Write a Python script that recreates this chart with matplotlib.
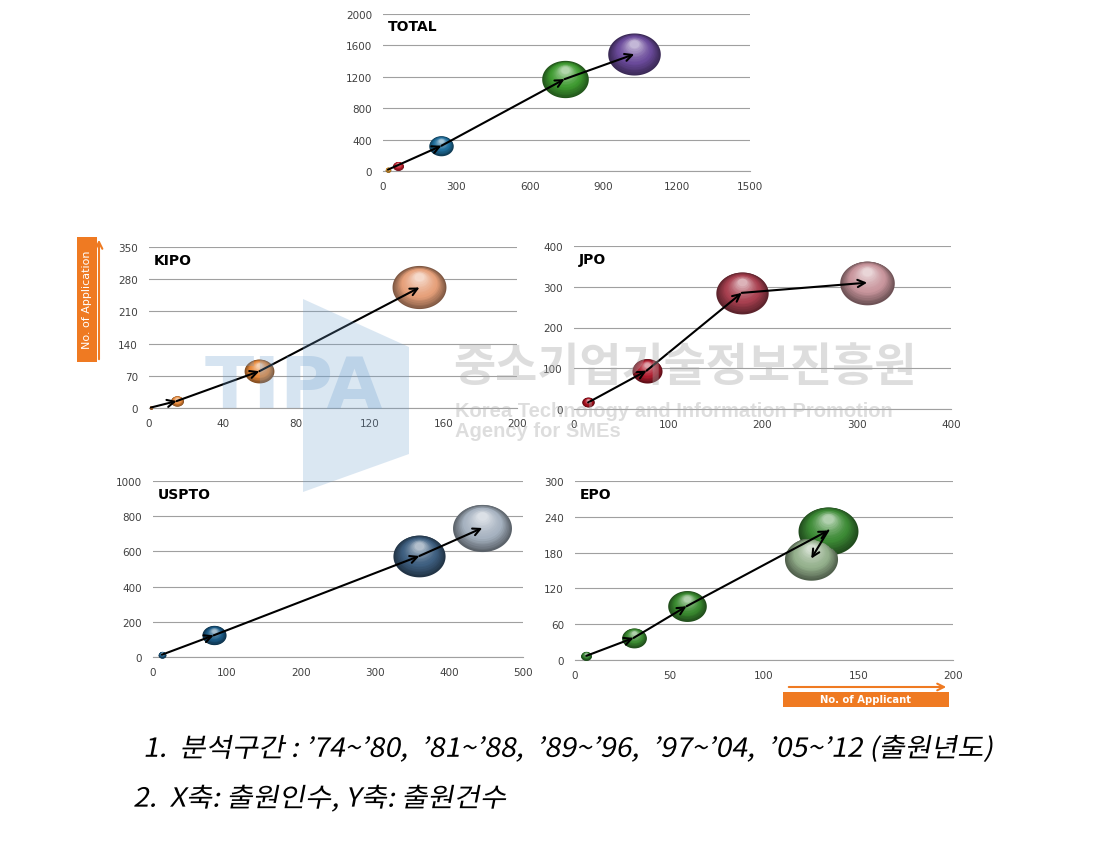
import numpy as np
import matplotlib
matplotlib.use("Agg")
import matplotlib.pyplot as plt
from matplotlib import transforms, patheffects
from matplotlib.path import Path
from matplotlib.patches import Polygon, Rectangle, FancyArrowPatch
from matplotlib.colors import to_rgb

W, H = 1108, 845

# ---- data (x = applicants, y = applications; one point per period) ----
total_x = [20, 61, 239, 742, 1027]
total_y = [17, 64, 322, 1170, 1488]
total_colors = ["#E8A030", "#C21E2C", "#1F6E9C", "#3E9A30", "#6A4A9A"]
total_path = [0, 2, 3, 4]

kipo_x = [1, 15, 60, 147]
kipo_y = [1, 15, 80, 262]
kipo_colors = ["#E8893A", "#E8893A", "#E8893A", "#E6A07A"]
kipo_path = [0, 1, 2, 3]

jpo_x = [15, 77, 178, 311]
jpo_y = [16, 94, 285, 310]
jpo_colors = ["#A8101E", "#B01C2E", "#A84050", "#C8959C"]
jpo_path = [0, 1, 2, 3]

uspto_x = [12, 82, 360, 445]
uspto_y = [13, 123, 574, 733]
uspto_colors = ["#1A5A85", "#1A5A85", "#3E5F80", "#A6B2C0"]
uspto_path = [0, 1, 2, 3]

epo_x = [6, 31, 59, 134, 125]
epo_y = [7, 37, 90, 217, 170]
epo_colors = ["#2E7A2A", "#3A8A30", "#3A8A30", "#3C8A35", "#94B08C"]
epo_path = [0, 1, 2, 3, 4]

notes = ["1.  분석구간 : \u201974~\u201980,  \u201981~\u201988,  \u201989~\u201996,  \u201997~\u201904,  \u201905~\u201912 (출원년도)",
         "2.  X축: 출원인수, Y축: 출원건수"]


def px_rect(l, t, r, b):
    return [l / W, 1 - b / H, (r - l) / W, (b - t) / H]


def fx(x):
    return x / W


def fy(y):
    return 1 - y / H


panels = [
    dict(name="TOTAL", x=total_x, y=total_y, colors=total_colors, path=total_path,
         box=(383, 15, 750, 172), xmax=1500, xstep=300, ymax=2000, ystep=400),
    dict(name="KIPO", x=kipo_x, y=kipo_y, colors=kipo_colors, path=kipo_path,
         box=(149, 248, 517, 409), xmax=200, xstep=40, ymax=350, ystep=70),
    dict(name="JPO", x=jpo_x, y=jpo_y, colors=jpo_colors, path=jpo_path,
         box=(574, 247, 951, 410), xmax=400, xstep=100, ymax=400, ystep=100),
    dict(name="USPTO", x=uspto_x, y=uspto_y, colors=uspto_colors, path=uspto_path,
         box=(153, 482, 523, 658), xmax=500, xstep=100, ymax=1000, ystep=200),
    dict(name="EPO", x=epo_x, y=epo_y, colors=epo_colors, path=epo_path,
         box=(575, 482, 953, 661), xmax=200, xstep=50, ymax=300, ystep=60),
]

theta = np.linspace(0, 2 * np.pi, 90)
ELLIPSE = Path(np.column_stack([np.cos(theta), 0.8 * np.sin(theta)]))
PT = 72 / 100  # points per pixel


class Slant(patheffects.AbstractPathEffect):
    """Fake italic: shear the glyph outlines."""

    def __init__(self, angle=11, stretch=1.08):
        super().__init__()
        self._t = transforms.Affine2D().scale(stretch, 1).skew_deg(angle, 0)

    def draw_path(self, renderer, gc, tpath, affine, rgbFace=None):
        renderer.draw_path(gc, tpath, self._t + affine, rgbFace)


def draw_bubble(ax, x, y, w_px, color):
    """Layered ellipses to mimic Excel's 3-D bubble."""
    base = np.array(to_rgb(color))
    n = 18
    for k in range(n):
        f = k / (n - 1)
        w = w_px * (1 - 0.82 * f)
        shade = 0.55 + 0.45 * min(f / 0.4, 1)
        c = base * shade
        if f > 0.4:
            c = c + (1 - c) * 0.6 * ((f - 0.4) / 0.6) ** 1.4
        dy = w_px * 0.8 * 0.5 * 0.5 * f
        tr = transforms.offset_copy(ax.transData, fig=ax.figure, x=0, y=dy * PT, units="points")
        ax.scatter([x], [y], s=(w * PT) ** 2, marker=ELLIPSE, color=np.clip(c, 0, 1),
                   linewidths=0, transform=tr, zorder=3 + 0.01 * k, clip_on=False)


fig = plt.figure(figsize=(W / 100, H / 100), dpi=100)
fig.patch.set_facecolor("white")

for p in panels:
    ax = fig.add_axes(px_rect(*p["box"]))
    ax.set_xlim(0, p["xmax"])
    ax.set_ylim(0, p["ymax"])
    ax.set_xticks(np.arange(0, p["xmax"] + 1, p["xstep"]))
    ax.set_yticks(np.arange(0, p["ymax"] + 1, p["ystep"]))
    ax.tick_params(length=0, labelsize=7.5, colors="#404040")
    ax.tick_params(axis="y", pad=8)
    ax.tick_params(axis="x", pad=7)
    ax.yaxis.grid(True, color="#A0A0A0", lw=0.8)
    ax.set_axisbelow(True)
    for s in ["top", "right", "left"]:
        ax.spines[s].set_visible(False)
    ax.spines["bottom"].set_color("#A0A0A0")
    ax.spines["bottom"].set_linewidth(0.8)

    ax_h = p["box"][3] - p["box"][1]
    ymx = max(p["y"])
    for xi, yi, ci in zip(p["x"], p["y"], p["colors"]):
        draw_bubble(ax, xi, yi, 0.335 * ax_h * np.sqrt(yi / ymx), ci)

    idx = p["path"]
    for a, b in zip(idx[:-1], idx[1:]):
        ax.annotate("", xy=(p["x"][b], p["y"][b]), xytext=(p["x"][a], p["y"][a]),
                    arrowprops=dict(arrowstyle="->", color="black", lw=1.5,
                                    shrinkA=0, shrinkB=0, mutation_scale=13),
                    zorder=6, annotation_clip=False)

    ax.text(0.012, 0.965, p["name"], transform=ax.transAxes, fontsize=10,
            fontweight="bold", va="top", ha="left", color="black", zorder=7)

# ---- axis legends (orange tags) ----
orange = "#EF7A22"
fig.add_artist(Rectangle((fx(77), fy(363)), fx(97) - fx(77), fy(238) - fy(363),
                         transform=fig.transFigure, color=orange, lw=0))
fig.text(fx(87), fy(300), "No. of Application", rotation=90, color="white",
         fontsize=8, ha="center", va="center")
fig.add_artist(FancyArrowPatch((fx(99), fy(363)), (fx(99), fy(238)), transform=fig.transFigure,
                               arrowstyle="->", color=orange, lw=1.5, mutation_scale=12))

fig.add_artist(Rectangle((fx(783), fy(708)), fx(949) - fx(783), fy(693) - fy(708),
                         transform=fig.transFigure, color=orange, lw=0))
fig.text(fx(866), fy(700.5), "No. of Applicant", color="white", fontsize=7.2,
         fontweight="bold", ha="center", va="center")
fig.add_artist(FancyArrowPatch((fx(786), fy(688)), (fx(949), fy(688)), transform=fig.transFigure,
                               arrowstyle="->", color=orange, lw=1.5, mutation_scale=12))

# ---- watermark ----
wm_blue = "#6FA0CF"
house = [(fx(303), fy(300)), (fx(409), fy(348)), (fx(409), fy(455)), (fx(303), fy(493))]
fig.add_artist(Polygon(house, closed=True, transform=fig.transFigure, facecolor=wm_blue,
                       alpha=0.25, lw=0, zorder=8))
fig.text(fx(205), fy(388), "TIPA", fontsize=52, fontweight="bold", color=wm_blue, alpha=0.28,
         ha="left", va="center", zorder=8)
fig.text(fx(453), fy(368), "중소기업기술정보진흥원", fontsize=33, fontweight="bold",
         family=["Noto Sans CJK KR"], color="#A8A8A8", alpha=0.38, ha="left", va="center", zorder=8)
fig.text(fx(455), fy(412), "Korea Technology and Information Promotion", fontsize=14.5,
         fontweight="bold", family=["Liberation Sans"], color="#A8A8A8", alpha=0.38,
         ha="left", va="center", zorder=8)
fig.text(fx(455), fy(432), "Agency for SMEs", fontsize=14.5, fontweight="bold",
         family=["Liberation Sans"], color="#A8A8A8", alpha=0.38, ha="left", va="center", zorder=8)

# ---- notes ----
for txt, (x0, y0) in zip(notes, [(143, 750), (133, 800)]):
    fig.text(fx(x0), fy(y0), txt, fontsize=19, family=["Noto Sans CJK KR", "DejaVu Sans"],
             ha="left", va="center", color="black", path_effects=[Slant()])

fig.savefig("out.png", dpi=100)
